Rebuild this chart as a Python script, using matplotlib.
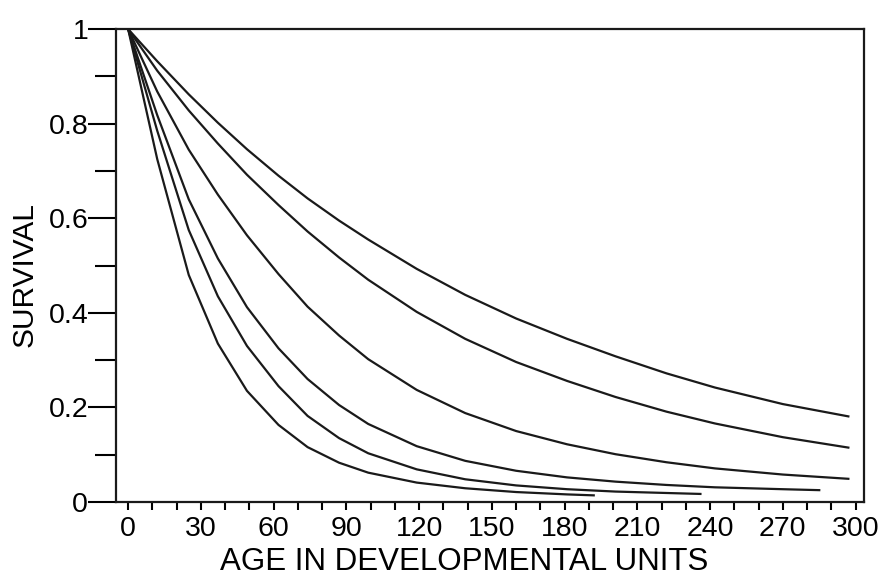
import matplotlib
matplotlib.use("Agg")
import matplotlib.pyplot as plt
from matplotlib.ticker import MultipleLocator

plt.rcParams['font.family'] = ['Liberation Sans', 'DejaVu Sans']

# values
age = [0, 12, 25, 37, 49, 62, 74, 87, 99, 119, 139, 160, 181, 201, 222, 242, 270, 297]
surv1 = [1, 0.932, 0.862, 0.802, 0.746, 0.690, 0.642, 0.595, 0.555, 0.493, 0.438,
         0.388, 0.345, 0.308, 0.272, 0.242, 0.207, 0.181]
surv2 = [1, 0.912, 0.828, 0.758, 0.692, 0.628, 0.572, 0.517, 0.470, 0.402, 0.345,
         0.296, 0.256, 0.222, 0.191, 0.166, 0.137, 0.115]
surv3 = [1, 0.868, 0.745, 0.650, 0.564, 0.482, 0.413, 0.352, 0.302, 0.237, 0.188,
         0.150, 0.122, 0.101, 0.084, 0.071, 0.058, 0.049]

age4 = [0, 12, 25, 37, 49, 62, 74, 87, 99, 119, 139, 160, 181, 201, 222, 242, 270, 285]
surv4 = [1, 0.818, 0.640, 0.515, 0.412, 0.325, 0.260, 0.205, 0.165, 0.118, 0.087,
         0.066, 0.052, 0.043, 0.036, 0.031, 0.027, 0.025]

age5 = [0, 12, 25, 37, 49, 62, 74, 87, 99, 119, 139, 160, 181, 201, 222, 236]
surv5 = [1, 0.785, 0.575, 0.435, 0.330, 0.245, 0.182, 0.135, 0.103, 0.069, 0.048,
         0.035, 0.027, 0.022, 0.019, 0.017]

age6 = [0, 12, 25, 37, 49, 62, 74, 87, 99, 119, 139, 160, 181, 192]
surv6 = [1, 0.725, 0.480, 0.335, 0.235, 0.163, 0.116, 0.083, 0.062, 0.041, 0.029,
         0.021, 0.016, 0.014]

curves = [(age, surv1), (age, surv2), (age, surv3),
          (age4, surv4), (age5, surv5), (age6, surv6)]

xticks = list(range(0, 301, 30))
yticks = [0, 0.2, 0.4, 0.6, 0.8, 1]
ylabels = ['0', '0.2', '0.4', '0.6', '0.8', '1']

fig = plt.figure(figsize=(8.89, 5.82), dpi=100)
ax = fig.add_axes([0.1305, 0.1375, 0.8415, 0.8125])

for xs, ys in curves:
    ax.plot(xs, ys, color='#1a1a1a', lw=1.6, solid_joinstyle='round')

ax.set_xlim(-5, 303.5)
ax.set_ylim(0, 1)

ax.set_xticks(xticks)
ax.xaxis.set_minor_locator(MultipleLocator(10))
ax.set_yticks(yticks)
ax.set_yticklabels(ylabels)
ax.yaxis.set_minor_locator(MultipleLocator(0.1))

ax.tick_params(axis='x', which='both', direction='out', length=6, width=1.5,
               labelsize=20.5, pad=4)
ax.tick_params(axis='y', which='major', direction='out', length=20, width=1.5,
               labelsize=20.5, pad=0)
ax.tick_params(axis='y', which='minor', direction='out', length=15, width=1.5)

for s in ax.spines.values():
    s.set_linewidth(1.6)
    s.set_color('#1a1a1a')

ax.set_xlabel('AGE IN DEVELOPMENTAL UNITS', fontsize=22.5, labelpad=6)
ax.xaxis.set_label_coords(0.465, -0.095)
ax.set_ylabel('SURVIVAL', fontsize=21.5, labelpad=2)
ax.yaxis.set_label_coords(-0.104, 0.48)

fig.savefig('out.png', dpi=100)
